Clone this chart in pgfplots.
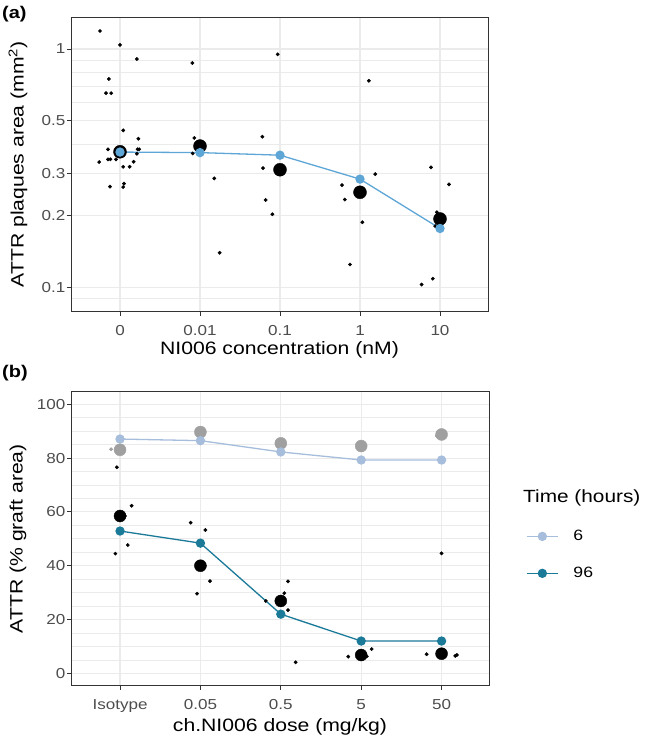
\documentclass[border=0pt]{standalone}
\usepackage{fontspec}
\setmainfont[FakeStretch=1.18]{Liberation Sans}
\usepackage{pgfplots}
\pgfplotsset{compat=1.18}
\definecolor{gridc}{RGB}{235,235,235}
\definecolor{framec}{RGB}{51,51,51}
\definecolor{tickc}{RGB}{77,77,77}
\definecolor{lineA}{RGB}{94,166,214}
\definecolor{hsix}{RGB}{166,189,219}
\definecolor{hninety}{RGB}{28,122,153}
\definecolor{meangrey}{RGB}{160,160,160}
\pgfplotsset{
 ggstyle/.style={
  scale only axis,
  axis line style={framec, line width=0.9bp},
  tick style={framec, line width=0.9bp},
  tick align=outside,
  major tick length=4bp,
  minor tick length=0bp,
  xtick pos=bottom, ytick pos=left,
  grid=both,
  major grid style={gridc, line width=1.1bp},
  minor grid style={gridc, line width=0.7bp},
  ticklabel style={font=\fontsize{14.5}{16}\selectfont, text=tickc, inner sep=1.5bp},
  xticklabel style={yshift=-8.5bp},
  /pgf/number format/assume math mode=true,
  label style={font=\fontsize{18}{20}\selectfont},
 }
}
\begin{document}
\begin{tikzpicture}
\useasboundingbox (0,0) rectangle (646bp,741bp);
% ---------------- panel (a)
\begin{axis}[ggstyle,
  at={(71bp,429.3bp)}, anchor=south west, width=417bp, height=294.7bp,
  ymode=log, xmin=-0.6125, xmax=4.6, ymin=0.0793, ymax=1.362,
  xtick={0,1,2,3,4}, xticklabels={0,0.01,0.1,1,10},
  ytick={0.1,0.2,0.3,0.5,1}, yticklabels={0.1,0.2,0.3,0.5,1},
  minor ytick={0.09,0.4,0.6,0.7,0.8,0.9},
  xlabel={NI006 concentration (nM)},
  ylabel={ATTR plaques area (mm\textsuperscript{2})},
  xlabel style={at={(axis description cs:0.5,-0.13)}, anchor=center},
  ylabel style={at={(axis description cs:-0.127,0.5)}, anchor=center},
]
\addplot[only marks, mark=*, mark size=1.7bp, black] coordinates {
(-0.25,1.19) (0.0,1.04) (0.21,0.908) (-0.14,0.749) (-0.175,0.653) (-0.11,0.653)
(0.04,0.456) (0.23,0.421) (-0.15,0.38) (0.22,0.38) (0.24,0.38) (0.21,0.364)
(-0.26,0.336) (-0.15,0.345) (-0.12,0.345) (-0.05,0.345) (0.17,0.337)
(0.04,0.321) (0.12,0.321) (-0.125,0.265) (0.05,0.273) (0.04,0.264)
(0.904,0.874) (0.929,0.424) (0.909,0.365) (1.179,0.287) (1.246,0.140)
(1.971,0.95) (1.779,0.429) (1.788,0.317) (1.821,0.233) (1.904,0.203)
(3.11,0.736) (3.19,0.299) (2.775,0.269) (2.81,0.234) (3.03,0.188) (2.875,0.125)
(3.8875,0.319) (4.1125,0.271) (3.96,0.207) (3.94,0.181) (3.91,0.109) (3.77,0.103)
};
\addplot[only marks, mark=*, mark size=6.5bp, black] coordinates {
(0,0.371) (1,0.392) (2,0.312) (3,0.251) (4,0.194)
};
\addplot[lineA, line width=1.3bp, mark=*, mark size=4bp, mark options={fill=lineA, draw=lineA}] coordinates {
(0,0.370) (1,0.368) (2,0.359) (3,0.285) (4,0.177)
};
\end{axis}
% ---------------- panel (b)
\begin{axis}[ggstyle,
  at={(71bp,55.3bp)}, anchor=south west, width=418bp, height=294bp,
  xmin=-0.61, xmax=4.59, ymin=-4.6, ymax=104.7,
  xtick={0,1,2,3,4}, xticklabels={Isotype,0.05,0.5,5,50},
  ytick={0,20,40,60,80,100}, minor y tick num=3,
  xlabel={ch.NI006 dose (mg/kg)},
  ylabel={ATTR (\% graft area)},
  xlabel style={at={(axis description cs:0.5,-0.1395)}, anchor=center},
  ylabel style={at={(axis description cs:-0.127,0.5)}, anchor=center},
  legend style={at={(axis description cs:1.0885,0.445)}, anchor=west, draw=none, fill=none,
     font=\fontsize{15}{17}\selectfont, row sep=25bp, column sep=15bp, inner sep=0pt,
     nodes={inner sep=0pt}},
  legend cell align=left,
  legend image code/.code={\draw[mark repeat=2,mark phase=2,#1] plot coordinates {(0bp,0bp) (15.5bp,0bp) (31bp,0bp)};},
]
\addlegendimage{hsix, line width=1.3bp, mark=*, mark size=4bp, mark options={fill=hsix, draw=hsix}}
\addlegendentry{6}
\addlegendimage{hninety, line width=1.3bp, mark=*, mark size=4bp, mark options={fill=hninety, draw=hninety}}
\addlegendentry{96}
\addplot[forget plot, only marks, mark=*, mark size=1.7bp, black] coordinates {
(-0.04,76.6) (0.145,62.3) (0.096,47.7) (-0.058,44.5) (0.06,58.5)
(0.879,56.0) (1.061,53.3) (1.119,34.3) (0.958,29.6) (1.053,40.0)
(2.09,34.2) (2.044,29.8) (1.813,26.9) (2.09,23.5) (2.185,4.1)
(2.839,6.2) (3.13,9.0) (3.07,6.3)
(4.0,44.6) (3.814,7.1) (4.17,6.5) (4.19,6.8)
};
\addplot[forget plot, only marks, mark=*, mark size=1.7bp, meangrey] coordinates {
(-0.112,83.3) (2.05,85.7) (3.94,88.3)
};
\addplot[forget plot, only marks, mark=*, mark size=6bp, meangrey] coordinates {
(0,83.1) (1,89.7) (2,85.5) (3,84.5) (4,88.8)
};
\addplot[forget plot, only marks, mark=*, mark size=6bp, black] coordinates {
(0,58.5) (1,40.0) (2,26.9) (3,6.8) (4,7.3)
};
\addplot[forget plot, hsix, line width=1.3bp, mark=*, mark size=4bp, mark options={fill=hsix, draw=hsix}] coordinates {
(0,87.1) (1,86.5) (2,82.3) (3,79.3) (4,79.3)
};
\addplot[forget plot, hninety, line width=1.3bp, mark=*, mark size=4bp, mark options={fill=hninety, draw=hninety}] coordinates {
(0,52.9) (1,48.4) (2,22.0) (3,12.0) (4,12.0)
};
\end{axis}
\node[anchor=west, inner sep=0pt, font=\fontsize{17.7}{20}\selectfont] at (523bp,243bp) {Time (hours)};
\node[anchor=west, inner sep=0pt, font=\bfseries\fontsize{17}{19}\selectfont] at (2bp,727bp) {(a)};
\node[anchor=west, inner sep=0pt, font=\bfseries\fontsize{17}{19}\selectfont] at (2bp,368bp) {(b)};
\end{tikzpicture}
\end{document}
